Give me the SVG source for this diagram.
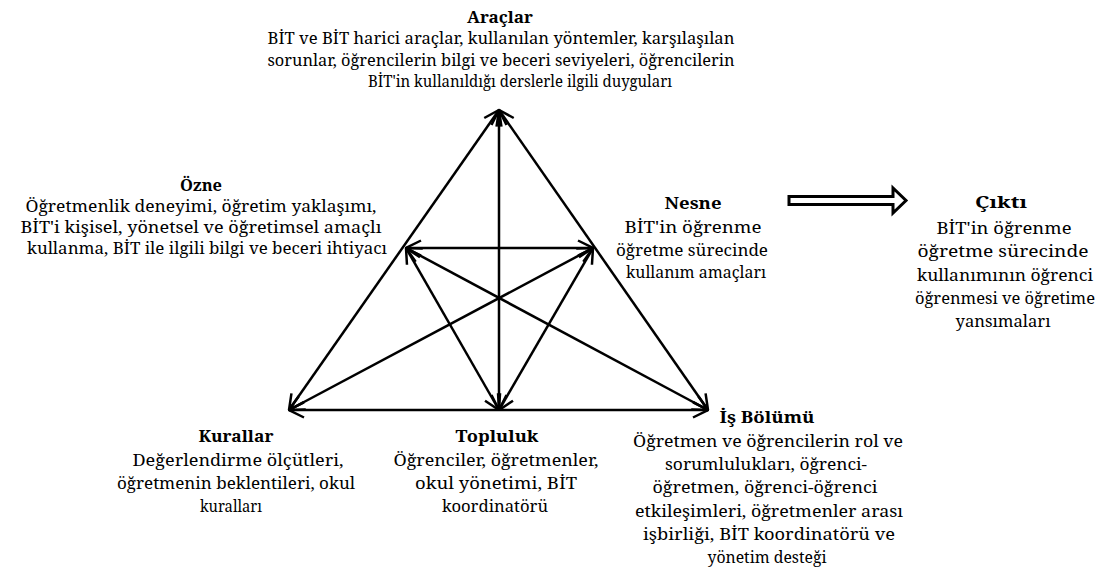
<svg xmlns="http://www.w3.org/2000/svg" width="1105" height="574" viewBox="0 0 1105 574">
  <style>
    text { font-family: "Noto Serif", "DejaVu Serif", serif; font-size: 16px; fill: #000; text-anchor: middle; }
    .title { font-weight: bold; }
    .link { stroke: #000; stroke-width: 2.5; fill: none; marker-start: url(#ah); marker-end: url(#ah); }
    .out { stroke: #000; stroke-width: 3; fill: #fff; stroke-linejoin: miter; }
  </style>
  <defs>
    <!-- open V arrowhead, used at both ends of every connector -->
    <marker id="ah" viewBox="0 0 17 18" refX="16" refY="9" markerWidth="17" markerHeight="18" markerUnits="userSpaceOnUse" orient="auto-start-reverse">
      <path d="M1,1.5 L16,9 L1,16.5" fill="none" stroke="#000" stroke-width="2.5" stroke-linejoin="miter"/>
    </marker>
  </defs>
  <rect width="1105" height="574" fill="#fff"/>

  <!-- activity-system triangle connectors -->
  <g id="connectors">
    <line class="link" x1="499" y1="110" x2="289" y2="410"/>
    <line class="link" x1="499" y1="110" x2="708" y2="410"/>
    <line class="link" x1="499" y1="110" x2="499" y2="410"/>
    <line class="link" x1="289" y1="410" x2="708" y2="410"/>
    <line class="link" x1="406" y1="248" x2="593" y2="248"/>
    <line class="link" x1="406" y1="248" x2="499" y2="410"/>
    <line class="link" x1="406" y1="248" x2="708" y2="410"/>
    <line class="link" x1="593" y1="248" x2="499" y2="410"/>
    <line class="link" x1="593" y1="248" x2="289" y2="410"/>
    <!-- hollow block arrow towards the outcome -->
    <path class="out" d="M789,196.5 L893,196.5 L893,188 L906,200.5 L893,213 L893,204.5 L789,204.5 Z"/>
  </g>

  <g id="araclar">
    <text class="title" x="500" y="23" textLength="66" lengthAdjust="spacingAndGlyphs">Araçlar</text>
    <text x="501" y="44" textLength="467" lengthAdjust="spacingAndGlyphs">BİT ve BİT harici araçlar, kullanılan yöntemler, karşılaşılan</text>
    <text x="501" y="66" textLength="467" lengthAdjust="spacingAndGlyphs">sorunlar, öğrencilerin bilgi ve beceri seviyeleri, öğrencilerin</text>
    <text x="520" y="87" textLength="304" lengthAdjust="spacingAndGlyphs">BİT'in kullanıldığı derslerle ilgili duyguları</text>
  </g>

  <g id="ozne">
    <text class="title" x="201" y="191" textLength="42" lengthAdjust="spacingAndGlyphs">Özne</text>
    <text x="201" y="212" textLength="351" lengthAdjust="spacingAndGlyphs">Öğretmenlik deneyimi, öğretim yaklaşımı,</text>
    <text x="201" y="233" textLength="361" lengthAdjust="spacingAndGlyphs">BİT'i kişisel, yönetsel ve öğretimsel amaçlı</text>
    <text x="207" y="254" textLength="360" lengthAdjust="spacingAndGlyphs">kullanma, BİT ile ilgili bilgi ve beceri ihtiyacı</text>
  </g>

  <g id="nesne">
    <text class="title" x="693" y="209" textLength="57" lengthAdjust="spacingAndGlyphs">Nesne</text>
    <text x="693" y="233" textLength="137" lengthAdjust="spacingAndGlyphs">BİT'in öğrenme</text>
    <text x="692" y="256" textLength="152" lengthAdjust="spacingAndGlyphs">öğretme sürecinde</text>
    <text x="696" y="278" textLength="140" lengthAdjust="spacingAndGlyphs">kullanım amaçları</text>
  </g>

  <g id="cikti">
    <text class="title" x="1001" y="208" textLength="52" lengthAdjust="spacingAndGlyphs">Çıktı</text>
    <text x="1004" y="234" textLength="135" lengthAdjust="spacingAndGlyphs">BİT'in öğrenme</text>
    <text x="1003" y="257" textLength="171" lengthAdjust="spacingAndGlyphs">öğretme sürecinde</text>
    <text x="1005" y="281" textLength="176" lengthAdjust="spacingAndGlyphs">kullanımının öğrenci</text>
    <text x="1005" y="304" textLength="180" lengthAdjust="spacingAndGlyphs">öğrenmesi ve öğretime</text>
    <text x="1003" y="327" textLength="95" lengthAdjust="spacingAndGlyphs">yansımaları</text>
  </g>

  <g id="kurallar">
    <text class="title" x="236" y="442" textLength="75" lengthAdjust="spacingAndGlyphs">Kurallar</text>
    <text x="238" y="466" textLength="211" lengthAdjust="spacingAndGlyphs">Değerlendirme ölçütleri,</text>
    <text x="236" y="489" textLength="238" lengthAdjust="spacingAndGlyphs">öğretmenin beklentileri, okul</text>
    <text x="231" y="512" textLength="62" lengthAdjust="spacingAndGlyphs">kuralları</text>
  </g>

  <g id="topluluk">
    <text class="title" x="497" y="442" textLength="83" lengthAdjust="spacingAndGlyphs">Topluluk</text>
    <text x="496" y="466" textLength="205" lengthAdjust="spacingAndGlyphs">Öğrenciler, öğretmenler,</text>
    <text x="496" y="489" textLength="162" lengthAdjust="spacingAndGlyphs">okul yönetimi, BİT</text>
    <text x="495" y="512" textLength="106" lengthAdjust="spacingAndGlyphs">koordinatörü</text>
  </g>

  <g id="is-bolumu">
    <text class="title" x="767" y="423" textLength="95" lengthAdjust="spacingAndGlyphs">İş Bölümü</text>
    <text x="768" y="447" textLength="270" lengthAdjust="spacingAndGlyphs">Öğretmen ve öğrencilerin rol ve</text>
    <text x="766" y="470" textLength="202" lengthAdjust="spacingAndGlyphs">sorumlulukları, öğrenci-</text>
    <text x="765" y="493" textLength="225" lengthAdjust="spacingAndGlyphs">öğretmen, öğrenci-öğrenci</text>
    <text x="769" y="517" textLength="268" lengthAdjust="spacingAndGlyphs">etkileşimleri, öğretmenler arası</text>
    <text x="769" y="540" textLength="252" lengthAdjust="spacingAndGlyphs">işbirliği, BİT koordinatörü ve</text>
    <text x="767" y="563" textLength="119" lengthAdjust="spacingAndGlyphs">yönetim desteği</text>
  </g>
</svg>
